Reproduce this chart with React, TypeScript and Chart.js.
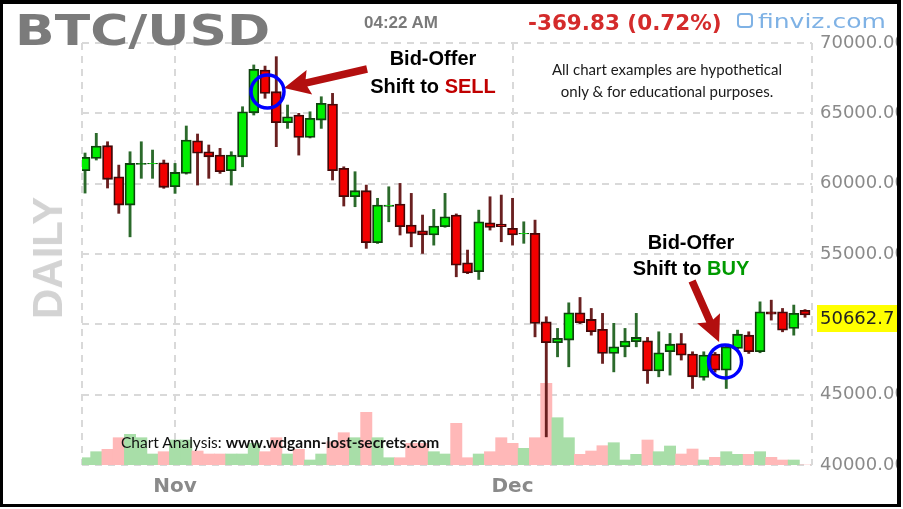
import React, { useEffect, useRef } from 'react';
import { Chart, registerables } from 'chart.js';

Chart.register(...registerables);

// ---------- DATA ----------
const dates = [
  'Oct 24', 'Oct 25', 'Oct 26', 'Oct 27', 'Oct 28', 'Oct 29', 'Oct 30', 'Oct 31',
  'Nov 1', 'Nov 2', 'Nov 3', 'Nov 4', 'Nov 5', 'Nov 6', 'Nov 7', 'Nov 8', 'Nov 9', 'Nov 10',
  'Nov 11', 'Nov 12', 'Nov 13', 'Nov 14', 'Nov 15', 'Nov 16', 'Nov 17', 'Nov 18', 'Nov 19', 'Nov 20',
  'Nov 21', 'Nov 22', 'Nov 23', 'Nov 24', 'Nov 25', 'Nov 26', 'Nov 27', 'Nov 28', 'Nov 29', 'Nov 30',
  'Dec 1', 'Dec 2', 'Dec 3', 'Dec 4', 'Dec 5', 'Dec 6', 'Dec 7', 'Dec 8', 'Dec 9', 'Dec 10',
  'Dec 11', 'Dec 12', 'Dec 13', 'Dec 14', 'Dec 15', 'Dec 16', 'Dec 17', 'Dec 18', 'Dec 19', 'Dec 20',
  'Dec 21', 'Dec 22', 'Dec 23', 'Dec 24', 'Dec 25', 'Dec 26', 'Dec 27',
];

const openPrices = [
  60920, 61800, 62700, 60490, 58480, 61360, 61400, 61490, 59780, 60730,
  63050, 62270, 62030, 60920, 61910, 65050, 68080, 66540, 64330, 64880,
  63290, 64520, 65660, 61090, 59070, 59500, 55800, 58390, 58550, 57060,
  56650, 56350, 56940, 57770, 54370, 53740, 57220, 57130, 56820, 56420,
  56470, 50180, 48690, 48880, 50820, 50350, 49640, 47930, 48400, 48760,
  48830, 46690, 48050, 48640, 47880, 46220, 47880, 46740, 48290, 49230,
  48050, 50890, 50890, 49710, 51000,
];
const highPrices = [
  62180, 63580, 62980, 61320, 62270, 62980, 62390, 61680, 61440, 64100,
  63530, 62750, 62510, 62270, 65470, 68440, 68360, 69030, 65590, 65000,
  65110, 66180, 66420, 61200, 60850, 59900, 58960, 59780, 60020, 59310,
  57770, 58170, 59310, 57850, 55280, 58120, 59070, 59190, 58960, 57290,
  57410, 50540, 49710, 51530, 51910, 51130, 50780, 50070, 49710, 50780,
  49070, 49470, 49350, 49350, 48050, 48050, 48000, 48520, 49590, 49470,
  51600, 51720, 51130, 51370, 51050,
];
const lowPrices = [
  59330, 61680, 59690, 57890, 56220, 60380, 60380, 59670, 59310, 60680,
  59900, 60380, 60730, 59900, 61200, 64880, 66070, 62630, 63930, 62030,
  63250, 63930, 60260, 58410, 58360, 55400, 55750, 57290, 56350, 55510,
  55040, 55630, 56900, 53380, 53600, 53190, 56700, 55870, 55630, 55760,
  49110, 42000, 47690, 46980, 50050, 49230, 47220, 46620, 47690, 48400,
  45800, 46270, 46390, 47460, 45440, 46030, 46600, 45440, 48250, 47930,
  47980, 50300, 49470, 49230, 50500,
];
const closePrices = [
  61870, 62680, 60310, 58480, 61440, 61440, 61440, 59740, 60800, 63100,
  62160, 61910, 60850, 62030, 65110, 68130, 66420, 64330, 64760, 63290,
  64650, 65710, 60920, 59070, 59500, 55800, 58480, 58480, 56940, 56470,
  56350, 56990, 57650, 54210, 53660, 57290, 56890, 56940, 56350, 56470,
  50070, 48690, 49000, 50820, 50110, 49470, 47930, 48400, 48810, 49070,
  46690, 47970, 48590, 47810, 46270, 47810, 46740, 48400, 49300, 48050,
  50890, 50720, 49590, 50780, 50662.7,
];
const volumes = [
  730, 1330, 1570, 2730, 3070, 2730, 1100, 1330, 2500, 2500,
  1400, 1100, 1100, 1100, 1100, 2170, 1330, 2730, 1100, 1570,
  500, 1100, 2330, 3230, 2730, 5270, 2730, 730, 730, 2170,
  2170, 1330, 1100, 4170, 730, 1100, 1330, 2730, 2170, 1670,
  2730, 8170, 4730, 2730, 1070, 1400, 1930, 2230, 500, 1070,
  2500, 1330, 1900, 1100, 1600, 500, 770, 1330, 1070, 1070,
  1330, 770, 500, 500, 0,
];

const priceTicks = [40000, 45000, 50000, 55000, 60000, 65000, 70000];
const monthStarts = ['Nov 1', 'Dec 1'];
const monthLabels = ['Nov', 'Dec'];
const lastPrice = 50662.7;
const hiddenTick = 50000;

// annotation anchors, in (candle index, price)
const circles = [
  { i: 16.22, p: 66550 },
  { i: 56.89, p: 47360 },
];
const arrows = [
  { i0: 25.07, p0: 68150, i1: 17.69, p1: 66800 },
  { i0: 53.96, p0: 53080, i1: 56.36, p1: 48740 },
];

// ---------- STYLES ----------
const UP_BODY = '#00ee00';
const UP_EDGE = '#0f420f';
const DN_BODY = '#f20000';
const DN_EDGE = '#420808';
const UP_WICK = '#2b6a2b';
const DN_WICK = '#6a2020';
const UP_VOL = '#a8dea8';
const DN_VOL = '#ffb8b8';
const GRID = '#d9d9d9';
const AXIS_TXT = '#8a8a8a';

function drawArrow(ctx: CanvasRenderingContext2D, x0: number, y0: number, x1: number, y1: number) {
  const ang = Math.atan2(y1 - y0, x1 - x0);
  const len = Math.hypot(x1 - x0, y1 - y0);
  const headL = 23;
  const headW = 12.5;
  const shaft = 3.8;
  ctx.save();
  ctx.translate(x0, y0);
  ctx.rotate(ang);
  ctx.fillStyle = '#b30f0f';
  ctx.beginPath();
  ctx.moveTo(0, -shaft);
  ctx.lineTo(len - headL, -shaft);
  ctx.lineTo(len - headL - 3, -headW);
  ctx.lineTo(len, 0);
  ctx.lineTo(len - headL - 3, headW);
  ctx.lineTo(len - headL, shaft);
  ctx.lineTo(0, shaft);
  ctx.closePath();
  ctx.fill();
  ctx.restore();
}

const annotPlugin = {
  id: 'annot',
  afterDraw(chart: any) {
    const { ctx, chartArea } = chart;
    const xs = chart.scales.x;
    const ys = chart.scales.y;
    ctx.save();
    // last price tag
    const py = ys.getPixelForValue(lastPrice);
    ctx.fillStyle = '#ffff00';
    ctx.fillRect(chartArea.right + 5, py - 10, 120, 27);
    ctx.fillStyle = '#222';
    ctx.font = '18px "DejaVu Sans"';
    ctx.textBaseline = 'middle';
    ctx.textAlign = 'left';
    ctx.fillText(lastPrice.toFixed(1), chartArea.right + 8, py + 4);
    // arrows
    arrows.forEach((a) => {
      drawArrow(ctx, xs.getPixelForValue(a.i0), ys.getPixelForValue(a.p0), xs.getPixelForValue(a.i1), ys.getPixelForValue(a.p1));
    });
    // circles
    ctx.strokeStyle = '#0000ff';
    ctx.lineWidth = 3.5;
    circles.forEach((c) => {
      ctx.beginPath();
      ctx.arc(xs.getPixelForValue(c.i), ys.getPixelForValue(c.p), 16.5, 0, Math.PI * 2);
      ctx.stroke();
    });
    ctx.restore();
  },
};

const abs = (s: React.CSSProperties): React.CSSProperties => ({ position: 'absolute', whiteSpace: 'nowrap', ...s });

export default function App() {
  const ref = useRef<HTMLCanvasElement | null>(null);

  useEffect(() => {
    document.body.style.margin = '0';
    const canvas = ref.current;
    if (!canvas) return;
    const idx = dates.map((_, i) => i);
    const up = closePrices.map((c, i) => c >= openPrices[i]);
    const monthTicks = monthStarts.map((m) => dates.indexOf(m));

    const chart = new Chart(canvas, {
      type: 'bar',
      data: {
        datasets: [
          {
            label: 'Body',
            data: idx.map((i) => ({ x: i, y: [openPrices[i], closePrices[i]] })) as any,
            backgroundColor: up.map((u) => (u ? UP_BODY : DN_BODY)),
            borderColor: up.map((u) => (u ? UP_EDGE : DN_EDGE)),
            borderWidth: 1.8,
            borderSkipped: false,
            barThickness: 10,
            grouped: false,
            order: 0,
            xAxisID: 'x',
            yAxisID: 'y',
          },
          {
            label: 'Wick',
            data: idx.map((i) => ({ x: i, y: [lowPrices[i], highPrices[i]] })) as any,
            backgroundColor: up.map((u) => (u ? UP_WICK : DN_WICK)),
            borderWidth: 0,
            barThickness: 2.2,
            grouped: false,
            order: 1,
            xAxisID: 'x',
            yAxisID: 'y',
          },
          {
            label: 'Volume',
            data: idx.map((i) => ({ x: i, y: volumes[i] })) as any,
            backgroundColor: up.map((u) => (u ? UP_VOL : DN_VOL)),
            borderWidth: 0,
            barThickness: 11.3,
            grouped: false,
            order: 2,
            xAxisID: 'x',
            yAxisID: 'yVol',
          },
        ],
      },
      options: {
        animation: false,
        responsive: false,
        maintainAspectRatio: false,
        layout: { padding: { left: 82, top: 43, right: 0, bottom: 0 } },
        plugins: { legend: { display: false }, tooltip: { enabled: false } },
        scales: {
          x: {
            type: 'linear',
            min: -0.27,
            max: 64.62,
            offset: false,
            grid: { offset: false, color: GRID, lineWidth: 2, drawTicks: false },
            border: { display: false, dash: [7, 6] },
            ticks: {
              autoSkip: false,
              maxRotation: 0,
              padding: 10,
              color: AXIS_TXT,
              font: { family: 'DejaVu Sans', size: 20, weight: 'bold' },
              callback: (v: any) => {
                const k = monthTicks.indexOf(Number(v));
                return k >= 0 ? monthLabels[k] : '';
              },
            },
            afterBuildTicks: (s: any) => {
              s.ticks = [s.min, ...monthTicks, s.max].map((value: number) => ({ value }));
            },
            afterFit: (s: any) => {
              s.height = 44;
            },
          },
          y: {
            type: 'linear',
            position: 'right',
            min: 40000,
            max: 70000,
            grid: { color: GRID, lineWidth: 2, drawTicks: false },
            border: { display: false, dash: [7, 6] },
            ticks: {
              padding: 8,
              color: AXIS_TXT,
              font: { family: 'DejaVu Sans', size: 18 },
              callback: (v: any) => (Number(v) === hiddenTick ? '' : Number(v).toFixed(2)),
            },
            afterBuildTicks: (s: any) => {
              s.ticks = priceTicks.map((value) => ({ value }));
            },
            afterFit: (s: any) => {
              s.width = 91;
            },
          },
          yVol: {
            type: 'linear',
            display: false,
            min: 0,
            max: 42200,
          },
        },
      } as any,
      plugins: [annotPlugin],
    });
    return () => chart.destroy();
  }, []);

  return (
    <div style={{ position: 'absolute', left: 0, top: 0, width: 903, height: 509, background: '#fff', overflow: 'hidden' }}>
      <canvas ref={ref} width={903} height={509} style={{ position: 'absolute', left: 0, top: 0 }} />

      {/* header */}
      <div style={abs({ left: 15, top: 9, font: 'bold 43px "DejaVu Sans"', lineHeight: 1, color: '#7b7b7b', transform: 'scaleX(1.21)', transformOrigin: 'left top' })}>BTC/USD</div>
      <div style={abs({ left: 364, top: 14, font: 'bold 17px "Liberation Sans"', lineHeight: 1, color: '#7a7a7a' })}>04:22 AM</div>
      <div style={abs({ left: 528, top: 12, font: 'bold 21.5px "DejaVu Sans"', lineHeight: 1, color: '#d42b2b' })}>-369.83 (0.72%)</div>
      <div style={abs({ left: 737, top: 13, width: 16, height: 15, border: '2px solid #7fb2e5', borderRadius: 4, boxSizing: 'border-box' })} />
      <div style={abs({ left: 758, top: 11, font: '20px "DejaVu Sans"', lineHeight: 1, color: '#7fb2e5', transform: 'scaleX(1.25)', transformOrigin: 'left top' })}>finviz.com</div>

      {/* side label */}
      <div style={abs({ left: 48, top: 258, font: 'bold 42px "Liberation Sans"', lineHeight: 1, color: '#d3d3d3', transform: 'translate(-50%, -50%) rotate(-90deg)' })}>DAILY</div>

      {/* annotations */}
      <div style={abs({ left: 333, top: 45, width: 200, textAlign: 'center', font: 'bold 20px "Liberation Sans"', lineHeight: '27.6px', color: '#000' })}>
        Bid-Offer<br />Shift to <span style={{ color: '#c00000' }}>SELL</span>
      </div>
      <div style={abs({ left: 591, top: 229, width: 200, textAlign: 'center', font: 'bold 20px "Liberation Sans"', lineHeight: '26px', color: '#000' })}>
        Bid-Offer<br />Shift to <span style={{ color: '#009a00' }}>BUY</span>
      </div>
      <div style={abs({ left: 517, top: 58, width: 300, textAlign: 'center', font: '15px Lato', lineHeight: '22px', color: '#1a1a1a' })}>
        All chart examples are hypothetical<br />only &amp; for educational purposes.
      </div>
      <div style={abs({ left: 121, top: 432, font: '15.5px Lato', lineHeight: '20px', color: '#111' })}>
        Chart Analysis: <b>www.wdgann-lost-secrets.com</b>
      </div>

      {/* frame */}
      <div style={abs({ left: 0, top: 0, width: 901, height: 507, borderStyle: 'solid', borderColor: '#000', borderWidth: '4px 4px 3px 3px', boxSizing: 'border-box', pointerEvents: 'none' })} />
      <div style={abs({ left: 901, top: 0, width: 2, height: 509, background: '#fff' })} />
      <div style={abs({ left: 0, top: 507, width: 903, height: 2, background: '#fff' })} />
    </div>
  );
}
